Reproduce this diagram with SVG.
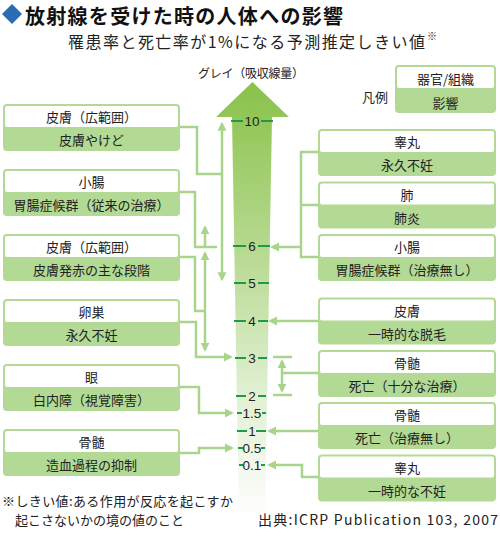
<svg xmlns="http://www.w3.org/2000/svg" width="500" height="542" viewBox="0 0 500 542">
<defs>
<style>
text{font-family:"Noto Sans CJK JP","Noto Sans CJK SC",sans-serif;fill:#222;}
.bt{font-size:13px;text-anchor:middle;}
.tk{font-family:"Liberation Sans",Arial,sans-serif;font-size:13.5px;text-anchor:middle;fill:#222;}
.box{fill:#b3da94;}
.wt{fill:#ffffff;}
.cn{fill:none;stroke:#a9d48c;stroke-width:2.5;}
.tick{stroke:#1e9a4a;stroke-width:2;}
</style>
<linearGradient id="gr" gradientUnits="userSpaceOnUse" x1="0" y1="82" x2="0" y2="520">
<stop offset="0" stop-color="#89c24a"/>
<stop offset="0.38" stop-color="#b6d98f"/>
<stop offset="0.72" stop-color="#e2f0d4"/>
<stop offset="1" stop-color="#ffffff"/>
</linearGradient>
<marker id="ah" viewBox="0 0 10 10" refX="8" refY="5" markerWidth="9" markerHeight="10" markerUnits="userSpaceOnUse" orient="auto-start-reverse">
<path d="M0,0 L10,5 L0,10 z" fill="#a9d48c"/>
</marker>
</defs>
<rect width="500" height="542" fill="#ffffff"/>

<g id="title">
<polygon points="12,4 22,14 12,24 2,14" fill="#2b6cb5"/>
<text x="25" y="23.5" font-size="20" font-weight="bold" style="fill:#111" textLength="318" lengthAdjust="spacing">放射線を受けた時の人体への影響</text>
<text x="68" y="48" font-size="16" textLength="357" lengthAdjust="spacing">罹患率と死亡率が1%になる予測推定しきい値</text>
<text x="427" y="40" font-size="10">※</text>
</g>

<g id="scale">
<polygon points="252.5,82 289,117 272,117 265,520 239,520 232,117 216,117" fill="url(#gr)"/>
<text class="tk" x="251" y="78" style="font-family:'Noto Sans CJK JP',sans-serif;font-size:12px" textLength="106" lengthAdjust="spacing">グレイ（吸収線量）</text>
<line class="tick" x1="231" y1="121" x2="243" y2="121"/><line class="tick" x1="261" y1="121" x2="273" y2="121"/><text class="tk" x="252" y="125.5">10</text>
<line class="tick" x1="233" y1="246" x2="246" y2="246"/><line class="tick" x1="258" y1="246" x2="270" y2="246"/><text class="tk" x="252" y="250.5">6</text>
<line class="tick" x1="234" y1="283" x2="246" y2="283"/><line class="tick" x1="258" y1="283" x2="269" y2="283"/><text class="tk" x="252" y="287.5">5</text>
<line class="tick" x1="234" y1="321" x2="246" y2="321"/><line class="tick" x1="258" y1="321" x2="268" y2="321"/><text class="tk" x="252" y="325.5">4</text>
<line class="tick" x1="235" y1="358" x2="246" y2="358"/><line class="tick" x1="258" y1="358" x2="267" y2="358"/><text class="tk" x="252" y="362.5">3</text>
<line class="tick" x1="236" y1="396" x2="246" y2="396"/><line class="tick" x1="258" y1="396" x2="266" y2="396"/><text class="tk" x="252" y="400.5">2</text>
<line class="tick" x1="237" y1="413" x2="242" y2="413"/><line class="tick" x1="262" y1="413" x2="266" y2="413"/><text class="tk" x="252" y="417.5">1.5</text>
<line class="tick" x1="237" y1="431" x2="247" y2="431"/><line class="tick" x1="256" y1="431" x2="266" y2="431"/><text class="tk" x="252" y="435.5">1</text>
<line class="tick" x1="238" y1="448" x2="243" y2="448"/><line class="tick" x1="261" y1="448" x2="265" y2="448"/><text class="tk" x="252" y="452.5">0.5</text>
<line class="tick" x1="239" y1="465" x2="243" y2="465"/><line class="tick" x1="261" y1="465" x2="265" y2="465"/><text class="tk" x="252" y="469.5">0.1</text>
</g>

<g id="legend">
<text x="362" y="102" font-size="13">凡例</text>
<rect class="box" x="395" y="65" width="101" height="48" rx="4"/>
<rect class="wt" x="397" y="67" width="97" height="21" rx="2"/>
<text class="bt" x="445.5" y="84">器官/組織</text>
<text class="bt" x="445.5" y="108">影響</text>
</g>

<g id="connectors">
<path class="cn" d="M180,127 H197 V174 H222"/>
<path class="cn" d="M222,123.5 V279.5" marker-start="url(#ah)" marker-end="url(#ah)"/>
<path class="cn" d="M180,192 H195 V247 H217"/>
<path class="cn" d="M205,247 V227" marker-end="url(#ah)"/>
<path class="cn" d="M180,257 H195 V311 H205"/>
<path class="cn" d="M205,253 V350" marker-start="url(#ah)" marker-end="url(#ah)"/>
<path class="cn" d="M180,322 H196 V357 H231" marker-end="url(#ah)"/>
<path class="cn" d="M180,387 H199 V413 H232" marker-end="url(#ah)"/>
<path class="cn" d="M180,453 H199 V448 H232" marker-end="url(#ah)"/>
<path class="cn" d="M318,152 H301 V257 H318 M301,205 H318"/>
<path class="cn" d="M301,247 H272" marker-end="url(#ah)"/>
<path class="cn" d="M318,321 H270" marker-end="url(#ah)"/>
<path class="cn" d="M318,373 H282"/>
<path class="cn" d="M282,361 V391" marker-start="url(#ah)" marker-end="url(#ah)"/>
<path class="cn" d="M273,357 H292 M273,395 H292"/>
<path class="cn" d="M318,431 H269" marker-end="url(#ah)"/>
<path class="cn" d="M318,477 H302 V465 H269" marker-end="url(#ah)"/>
</g>

<g id="L1"><rect class="box" x="3" y="104" width="177" height="47" rx="4"/><rect class="wt" x="5" y="106" width="173" height="21" rx="2"/><text class="bt" x="91.5" y="122">皮膚（広範囲）</text><text class="bt" x="91.5" y="145">皮膚やけど</text></g>
<g id="L2"><rect class="box" x="3" y="169" width="177" height="47" rx="4"/><rect class="wt" x="5" y="171" width="173" height="21" rx="2"/><text class="bt" x="91.5" y="187">小腸</text><text class="bt" x="91.5" y="210">胃腸症候群（従来の治療）</text></g>
<g id="L3"><rect class="box" x="3" y="234" width="177" height="47" rx="4"/><rect class="wt" x="5" y="236" width="173" height="21" rx="2"/><text class="bt" x="91.5" y="252">皮膚（広範囲）</text><text class="bt" x="91.5" y="275">皮膚発赤の主な段階</text></g>
<g id="L4"><rect class="box" x="3" y="299" width="177" height="47" rx="4"/><rect class="wt" x="5" y="301" width="173" height="21" rx="2"/><text class="bt" x="91.5" y="317">卵巣</text><text class="bt" x="91.5" y="340">永久不妊</text></g>
<g id="L5"><rect class="box" x="3" y="364" width="177" height="47" rx="4"/><rect class="wt" x="5" y="366" width="173" height="21" rx="2"/><text class="bt" x="91.5" y="382">眼</text><text class="bt" x="91.5" y="405">白内障（視覚障害）</text></g>
<g id="L6"><rect class="box" x="3" y="429" width="177" height="47" rx="4"/><rect class="wt" x="5" y="431" width="173" height="21" rx="2"/><text class="bt" x="91.5" y="447">骨髄</text><text class="bt" x="91.5" y="470">造血過程の抑制</text></g>

<g id="R1"><rect class="box" x="318" y="129" width="178" height="47" rx="4"/><rect class="wt" x="320" y="131" width="174" height="21" rx="2"/><text class="bt" x="407" y="147">睾丸</text><text class="bt" x="407" y="170">永久不妊</text></g>
<g id="R2"><rect class="box" x="318" y="181.5" width="178" height="47" rx="4"/><rect class="wt" x="320" y="183.5" width="174" height="21" rx="2"/><text class="bt" x="407" y="199.5">肺</text><text class="bt" x="407" y="222.5">肺炎</text></g>
<g id="R3"><rect class="box" x="318" y="234" width="178" height="47" rx="4"/><rect class="wt" x="320" y="236" width="174" height="21" rx="2"/><text class="bt" x="407" y="252">小腸</text><text class="bt" x="407" y="275">胃腸症候群（治療無し）</text></g>
<g id="R4"><rect class="box" x="318" y="297.5" width="178" height="47" rx="4"/><rect class="wt" x="320" y="299.5" width="174" height="21" rx="2"/><text class="bt" x="407" y="315.5">皮膚</text><text class="bt" x="407" y="338.5">一時的な脱毛</text></g>
<g id="R5"><rect class="box" x="318" y="350" width="178" height="47" rx="4"/><rect class="wt" x="320" y="352" width="174" height="21" rx="2"/><text class="bt" x="407" y="368">骨髄</text><text class="bt" x="407" y="391">死亡（十分な治療）</text></g>
<g id="R6"><rect class="box" x="318" y="402" width="178" height="47" rx="4"/><rect class="wt" x="320" y="404" width="174" height="21" rx="2"/><text class="bt" x="407" y="420">骨髄</text><text class="bt" x="407" y="443">死亡（治療無し）</text></g>
<g id="R7"><rect class="box" x="318" y="454.5" width="178" height="47" rx="4"/><rect class="wt" x="320" y="456.5" width="174" height="21" rx="2"/><text class="bt" x="407" y="472.5">睾丸</text><text class="bt" x="407" y="495.5">一時的な不妊</text></g>

<g id="notes">
<text x="2" y="506" font-size="13" textLength="231" lengthAdjust="spacing">※しきい値:ある作用が反応を起こすか</text>
<text x="15" y="525" font-size="13">起こさないかの境の値のこと</text>
<text x="258" y="525" font-size="14" textLength="240" lengthAdjust="spacing">出典:ICRP Publication 103, 2007</text>
</g>
</svg>
